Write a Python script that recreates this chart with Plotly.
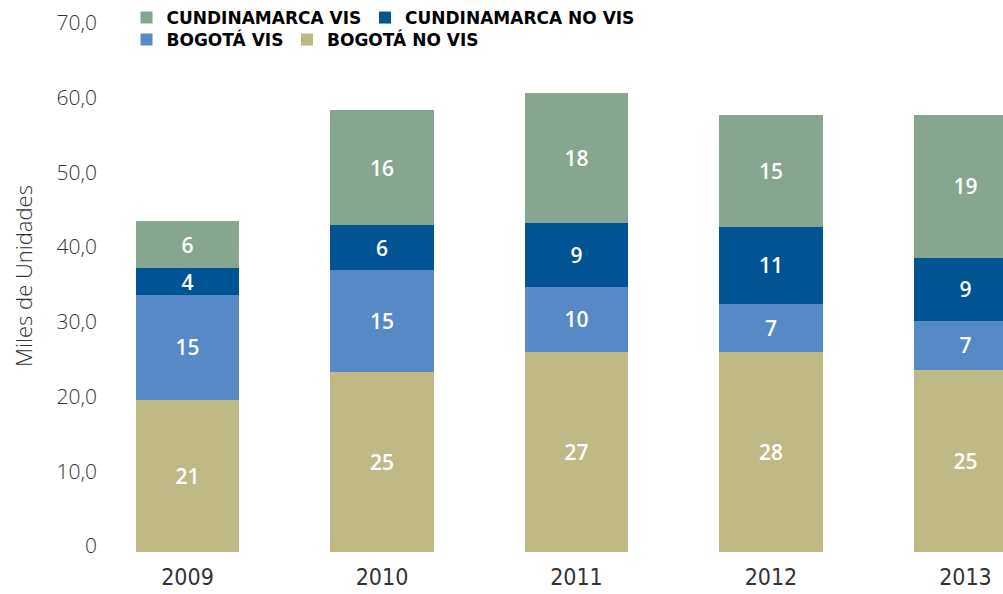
import plotly.graph_objects as go

years = ["2009", "2010", "2011", "2012", "2013"]

# segment heights (miles de unidades)
bogota_no_vis = [20.35, 24.1, 26.8, 26.8, 24.4]
bogota_vis = [14.05, 13.65, 8.7, 6.4, 6.5]
cund_no_vis = [3.6, 6.0, 8.5, 10.3, 8.5]
cund_vis = [6.3, 15.4, 17.4, 15.0, 19.1]

# printed labels inside the segments
lbl_bogota_no_vis = ["21", "25", "27", "28", "25"]
lbl_bogota_vis = ["15", "15", "10", "7", "7"]
lbl_cund_no_vis = ["4", "6", "9", "11", "9"]
lbl_cund_vis = ["6", "16", "18", "15", "19"]

y_tickvals = [0, 10, 20, 30, 40, 50, 60, 70]
y_ticktext = ["0", "10,0", "20,0", "30,0", "40,0", "50,0", "60,0", "70,0"]

series = [
    ("BOGOTÁ NO VIS", bogota_no_vis, lbl_bogota_no_vis, "#BFBA85", "legend4"),
    ("BOGOTÁ VIS", bogota_vis, lbl_bogota_vis, "#5689C6", "legend3"),
    ("CUNDINAMARCA NO VIS", cund_no_vis, lbl_cund_no_vis, "#005494", "legend2"),
    ("CUNDINAMARCA VIS", cund_vis, lbl_cund_vis, "#87A690", "legend"),
]

fig = go.Figure()
for name, vals, lbls, color, leg in series:
    fig.add_trace(go.Bar(
        x=years, y=vals, name=name, text=lbls,
        texttemplate="%{text}", textposition="inside",
        insidetextanchor="middle", textangle=0,
        textfont=dict(family="Open Sans", size=21, color="white", weight=600),
        marker=dict(color=color, line=dict(width=0)),
        width=0.53, legend=leg,
        hoverinfo="skip",
    ))

W, H = 1003, 594
L = 105
legfont = dict(family="DejaVu Sans", size=17, color="black", weight=700)


def leg(xpx, ypx):
    return dict(
        orientation="h", x=xpx / W, xref="container", xanchor="left",
        y=1 - ypx / H, yref="container", yanchor="top",
        font=legfont, bgcolor="rgba(0,0,0,0)",
        itemclick=False, itemdoubleclick=False,
    )


fig.update_layout(
    width=W, height=H,
    barmode="stack",
    plot_bgcolor="white", paper_bgcolor="white",
    margin=dict(l=L, r=0, t=0, b=42, autoexpand=False),
    uniformtext=dict(mode="show", minsize=21),
    showlegend=True,
    legend=leg(126.5, 0),
    legend2=leg(365, 0),
    legend3=leg(126.5, 22),
    legend4=leg(287, 22),
    xaxis=dict(
        type="category", range=[-0.424, 4.193],
        showgrid=False, showline=False, zeroline=False, ticks="",
        ticklabelstandoff=9,
        tickfont=dict(family="Liberation Sans Narrow, DejaVu Sans Condensed", size=23, color="#333333"),
    ),
    yaxis=dict(
        range=[0, 73.88], tickvals=y_tickvals, ticktext=y_ticktext,
        showgrid=False, showline=False, zeroline=False, ticks="",
        ticklabelshift=-6, ticklabelstandoff=7,
        tickfont=dict(family="Open Sans", size=21, color="#333333", weight=300),
        title=dict(text="Miles de Unidades", standoff=17,
                   font=dict(family="Open Sans", size=22, color="#333333", weight=300)),
    ),
)

fig.write_html("out.html", config={"displayModeBar": False},
               post_script="document.body.style.margin='0px';")
